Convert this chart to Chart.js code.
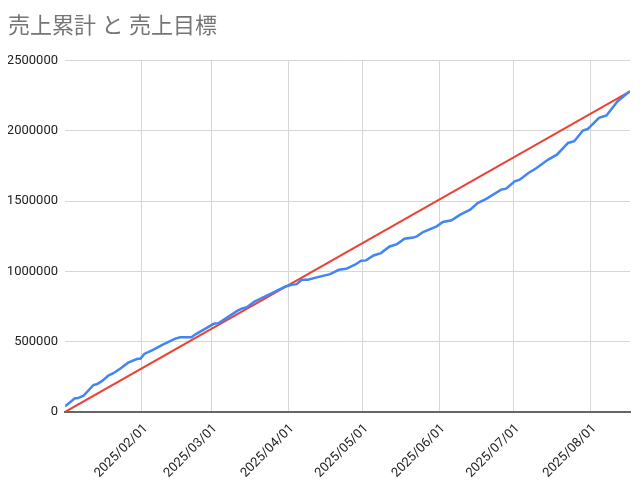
<!DOCTYPE html>
<html>
<head>
<meta charset="utf-8">
<script src="https://cdn.jsdelivr.net/npm/chart.js@4"></script>
<style>
  html, body { margin: 0; padding: 0; background: #fff; }
  #wrap { width: 640px; height: 482px; }
</style>
</head>
<body>
<div id="wrap"><canvas id="myChart"></canvas></div>
<script>
// days counted from 2025/01/01
const salesDays = [0, 4, 5, 7.5, 11.5, 13, 15, 17.5, 19.5, 22.5, 25.5, 29, 30.5, 32, 35.5, 39.5, 44.5, 46.5,
  51, 53, 56.5, 60, 62, 64, 69.5, 71.5, 73.5, 76.5, 83.5, 89, 91.5, 93.5, 95.5, 98, 102, 107, 110.5, 113.5,
  117, 119.5, 121.5, 124.5, 127.5, 131, 134, 137, 140.5, 142, 144.5, 150, 152.5, 156, 159.5, 163.5, 166.5,
  170, 176, 178, 181.5, 183.5, 187, 190, 195, 198.5, 203, 205.5, 209, 211, 215.5, 218.5, 223, 228];
const salesCum = [40000, 97000, 97000, 116000, 192000, 199000, 221000, 259000, 276000, 311000, 351000, 377000,
  380000, 413000, 442000, 479000, 522000, 532000, 532000, 556000, 591000, 627000, 632000, 655000, 719000,
  736000, 746000, 786000, 845000, 892000, 904000, 909000, 940000, 940000, 959000, 980000, 1011000, 1018000,
  1047000, 1075000, 1078000, 1113000, 1130000, 1177000, 1194000, 1232000, 1240000, 1249000, 1280000, 1320000,
  1351000, 1363000, 1403000, 1439000, 1486000, 1515000, 1581000, 1588000, 1640000, 1652000, 1700000, 1731000,
  1795000, 1830000, 1913000, 1925000, 2001000, 2013000, 2092000, 2108000, 2210000, 2281000];

const targetDays = [0, 228];
const targetValues = [0, 2280000];

const monthDays = [31, 59, 90, 120, 151, 181, 212];
const monthLabels = ["2025/02/01", "2025/03/01", "2025/04/01", "2025/05/01", "2025/06/01", "2025/07/01", "2025/08/01"];

const toPoints = (xs, ys) => xs.map((x, i) => ({ x: x, y: ys[i] }));

const font = "Roboto, 'Noto Sans CJK JP', sans-serif";

const data = {
  datasets: [
    {
      label: "売上累計",
      data: toPoints(salesDays, salesCum),
      borderColor: "#4285F4",
      borderWidth: 2.5,
      pointRadius: 0,
      tension: 0,
    },
    {
      label: "売上目標",
      data: toPoints(targetDays, targetValues),
      borderColor: "#EA4335",
      borderWidth: 2,
      pointRadius: 0,
    },
  ],
};

const config = {
  type: "line",
  data,
  options: {
    responsive: true,
    maintainAspectRatio: false,
    animation: false,
    layout: { padding: { left: 8, right: 10, top: 0, bottom: 0 } },
    plugins: {
      legend: { display: false },
      tooltip: { enabled: false },
      title: {
        display: true,
        text: "売上累計 と 売上目標",
        align: "start",
        color: "#757575",
        font: { family: font, size: 22, weight: "normal" },
        padding: { top: 14, bottom: 20 },
      },
    },
    scales: {
      x: {
        type: "linear",
        min: 0,
        max: 228,
        afterBuildTicks: (axis) => {
          axis.ticks = monthDays.map((v) => ({ value: v }));
        },
        afterFit: (axis) => { axis.height = 70; },
        ticks: {
          autoSkip: false,
          minRotation: 45,
          maxRotation: 45,
          color: "#222",
          font: { family: font, size: 13 },
          padding: 9,
          labelOffset: 4,
          callback: (v) => monthLabels[monthDays.indexOf(v)],
        },
        grid: { color: "#d6d6d6", drawTicks: false },
        border: { color: "#666", width: 2 },
      },
      y: {
        min: 0,
        max: 2500000,
        afterFit: (axis) => { axis.width = 57; },
        ticks: {
          stepSize: 500000,
          color: "#222",
          font: { family: font, size: 13 },
          padding: 7,
          callback: (v) => String(v),
        },
        grid: { color: "#d6d6d6", drawTicks: false },
        border: { display: false },
      },
    },
  },
};

var myChart = new Chart(document.getElementById("myChart"), config);
</script>
</body>
</html>
